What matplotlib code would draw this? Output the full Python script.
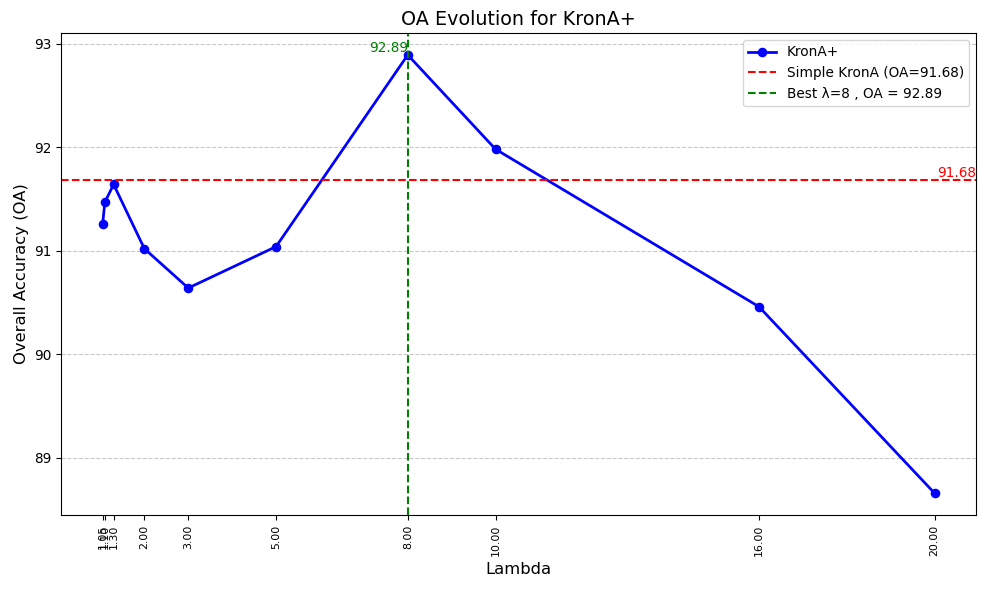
import matplotlib
matplotlib.use('Agg')
import matplotlib.pyplot as plt

# lambda values and overall accuracy
lambdas = [1.05, 1.1, 1.3, 2.0, 3.0, 5.0, 8.0, 10.0, 16.0, 20.0]
oa_values = [91.26, 91.47, 91.64, 91.02, 90.64, 91.04, 92.89, 91.98, 90.46, 88.66]
simple_krona_oa = 91.68
best_lambda = 8
best_oa = 92.89

fig, ax = plt.subplots(figsize=(10, 5.99), dpi=98.5)

ax.plot(lambdas, oa_values, marker='o', color='blue', linewidth=2, label='KronA+')
ax.axhline(simple_krona_oa, color='red', linestyle='--',
           label=f'Simple KronA (OA={simple_krona_oa})')
ax.axvline(best_lambda, color='green', linestyle='--',
           label=f'Best λ={best_lambda} , OA = {best_oa}')

ax.text(best_lambda, best_oa, f'{best_oa}', color='green', ha='right', va='bottom')

ax.set_xticks(lambdas)
ax.set_xticklabels([f'{v:.2f}' for v in lambdas], rotation=90, fontsize=8)
ax.grid(axis='y', linestyle='--', alpha=0.7)

ax.set_title('OA Evolution for KronA+', fontsize=14)
ax.set_xlabel('Lambda', fontsize=12)
ax.set_ylabel('Overall Accuracy (OA)', fontsize=12)
ax.legend(loc='upper right')

xmax = ax.get_xlim()[1]
ax.text(xmax, simple_krona_oa, f'{simple_krona_oa}', color='red', ha='right', va='bottom')

fig.subplots_adjust(left=0.062, right=0.991, top=0.944, bottom=0.127)
plt.savefig('out.png')
